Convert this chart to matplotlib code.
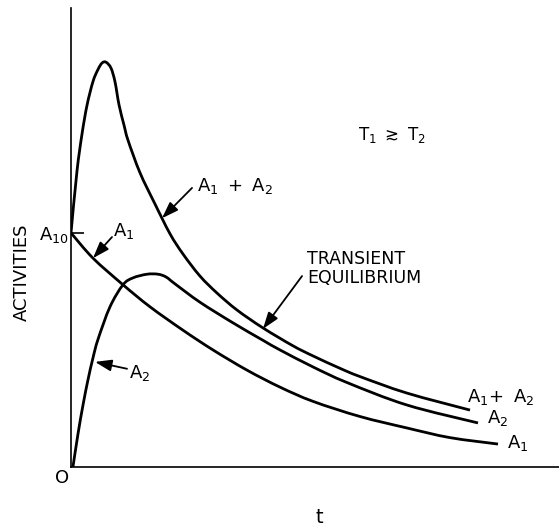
import matplotlib
matplotlib.use('Agg')
import numpy as np
import matplotlib.pyplot as plt
from matplotlib.path import Path
from matplotlib.patches import PathPatch

plt.rcParams['font.family'] = 'DejaVu Sans'
plt.rcParams['mathtext.fontset'] = 'dejavusans'
plt.rcParams['mathtext.default'] = 'regular'

# curves (t, activity), arbitrary units
t_a1 = [0.0, 0.451, 1.066, 1.619, 2.295, 2.910, 3.607, 4.283, 4.959, 5.922, 6.885, 7.766, 8.750]
a1 = [5.10, 4.55, 3.97, 3.49, 2.98, 2.55, 2.11, 1.74, 1.43, 1.10, 0.85, 0.64, 0.50]

t_a2 = [0.04, 0.143, 0.246, 0.348, 0.451, 0.553, 0.799, 1.066, 1.270, 1.557, 1.783, 1.947,
        2.131, 2.643, 3.320, 3.934, 4.283, 4.959, 5.656, 6.885, 8.340]
a2 = [0.0, 0.72, 1.35, 1.90, 2.38, 2.78, 3.49, 3.97, 4.12, 4.20, 4.20, 4.14,
      3.99, 3.59, 3.14, 2.76, 2.55, 2.18, 1.84, 1.35, 0.96]

t_sum = [0.0, 0.123, 0.225, 0.328, 0.451, 0.553, 0.635, 0.717, 0.820, 0.902, 0.984, 1.086,
         1.168, 1.414, 1.721, 2.029, 2.295, 2.643, 2.992, 3.402, 3.934, 4.549, 4.959,
         5.512, 5.922, 6.885, 8.176]
a_sum = [5.10, 6.45, 7.25, 7.88, 8.40, 8.66, 8.80, 8.82, 8.69, 8.39, 7.89, 7.45,
         7.12, 6.41, 5.73, 5.08, 4.64, 4.16, 3.79, 3.42, 3.03, 2.64, 2.42,
         2.15, 1.97, 1.61, 1.24]

a10 = 5.10


def smooth_path(x, y):
    # hand-drawn look: catmull-rom through the read points, as bezier segments
    p = np.column_stack([x, y])
    n = len(p)
    verts = [p[0]]
    codes = [Path.MOVETO]
    for i in range(n - 1):
        p0 = p[max(i - 1, 0)]
        p3 = p[min(i + 2, n - 1)]
        c1 = p[i] + (p[i + 1] - p0) / 6
        c2 = p[i + 1] - (p3 - p[i]) / 6
        verts += [c1, c2, p[i + 1]]
        codes += [Path.CURVE4] * 3
    return Path(verts, codes)


fig = plt.figure(figsize=(5.59, 5.29), dpi=100)
ax = fig.add_axes([71 / 559, 62 / 529, 488 / 559, 459 / 529])
ax.set_xlim(0, 10)
ax.set_ylim(0, 10)

for t, a in [(t_a1, a1), (t_a2, a2), (t_sum, a_sum)]:
    ax.add_patch(PathPatch(smooth_path(t, a), fill=False, edgecolor='black',
                           lw=2.0, capstyle='butt', joinstyle='round'))

for s in ['top', 'right']:
    ax.spines[s].set_visible(False)
for s in ['left', 'bottom']:
    ax.spines[s].set_linewidth(1.2)

ax.set_xticks([])
ax.set_yticks([a10])
ax.set_yticklabels([r'$A_{10}$'], fontsize=13)
ax.tick_params(axis='y', direction='in', length=9, width=1.2, pad=2)

ax.set_ylabel('ACTIVITIES', fontsize=13)
ax.yaxis.set_label_coords(-0.082, 0.425)
ax.set_xlabel('t', fontsize=14)
ax.xaxis.set_label_coords(0.508, -0.089)

ax.text(-0.18, -0.24, 'O', fontsize=13, ha='center', va='center')

arrow = dict(arrowstyle='-|>,head_length=1.0,head_width=0.35', mutation_scale=10,
             color='black', lw=1.3, shrinkA=0, shrinkB=0)

ax.text(2.58, 6.12, r'$A_1\ +\ A_2$', fontsize=13, ha='left', va='center')
ax.annotate('', xy=(1.865, 5.42), xytext=(2.48, 6.08), arrowprops=arrow)

ax.text(0.86, 5.14, r'$A_1$', fontsize=13, ha='left', va='center')
ax.annotate('', xy=(0.451, 4.55), xytext=(0.84, 5.01), arrowprops=arrow)

ax.text(1.19, 2.05, r'$A_2$', fontsize=13, ha='left', va='center')
ax.annotate('', xy=(0.492, 2.29), xytext=(1.148, 2.14), arrowprops=arrow)

ax.text(4.84, 4.33, 'TRANSIENT\nEQUILIBRIUM', fontsize=12.5, ha='left', va='center',
        linespacing=1.1)
ax.annotate('', xy=(3.934, 3.01), xytext=(4.734, 4.16), arrowprops=arrow)

ax.text(6.58, 7.23, r'$T_1\ \gtrsim\ T_2$', fontsize=12, ha='center', va='center')

ax.text(8.11, 1.53, r'$A_1\!+\ A_2$', fontsize=13, ha='left', va='center')
ax.text(8.52, 1.07, r'$A_2$', fontsize=13, ha='left', va='center')
ax.text(8.93, 0.52, r'$A_1$', fontsize=13, ha='left', va='center')

fig.savefig('out.png', dpi=100, facecolor='white')
